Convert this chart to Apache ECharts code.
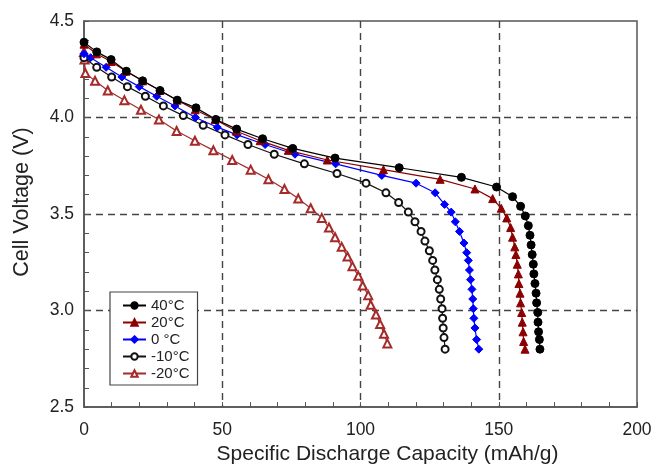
<!DOCTYPE html>
<html>
<head>
<meta charset="utf-8">
<script src="https://cdn.jsdelivr.net/npm/echarts@6/dist/echarts.min.js"></script>
<style>html,body{margin:0;padding:0;background:#fff}#c{width:657px;height:470px}</style>
</head>
<body>
<div id="c"></div>
<script>
var seriesNames = ['40\u00B0C', '20\u00B0C', '0 \u00B0C', '-10\u00B0C', '-20\u00B0C'];
var xTicks = [0, 50, 100, 150, 200];
var yTicks = [2.5, 3.0, 3.5, 4.0, 4.5];

var cap40 = [0,4.6,9.8,15.3,21.2,27.5,33.7,40.5,47.7,55.2,64.6,75.5,90.8,114,136.5,149.2,155.0,157.9,159.6,160.7,161.3,161.7,162.1,162.5,162.7,163.1,163.5,163.7,164.1,164.2,164.4,164.7,164.9];
var v40   = [4.39,4.34,4.30,4.24,4.19,4.14,4.09,4.05,3.99,3.94,3.89,3.84,3.79,3.74,3.69,3.64,3.59,3.54,3.49,3.44,3.39,3.34,3.29,3.24,3.19,3.14,3.09,3.04,2.99,2.94,2.89,2.85,2.80];

var cap20 = [0,4.5,9.8,15.2,21.2,27.5,33.7,40.2,47.4,55.0,63.7,73.9,88.0,108.3,128.8,141.4,147.8,150.9,152.9,154.3,155.0,155.8,156.2,156.7,157.1,157.3,157.7,157.9,158.3,158.5,158.8,159.0,159.5];
var v20   = [4.38,4.33,4.29,4.24,4.19,4.14,4.09,4.04,3.99,3.93,3.88,3.83,3.78,3.73,3.68,3.63,3.58,3.53,3.48,3.43,3.38,3.33,3.29,3.24,3.19,3.14,3.09,3.04,2.99,2.94,2.89,2.84,2.80];

var cap0 = [0,2.4,8.0,13.7,20.0,26.3,32.9,40.3,48.2,55.4,65.5,76.3,91.0,107.7,120.1,127.0,130.4,132.8,134.3,135.8,137.4,138.4,139.0,139.4,139.8,140.3,140.6,140.8,141.0,141.4,142.0,142.8];
var v0   = [4.33,4.31,4.26,4.21,4.16,4.11,4.06,4.00,3.95,3.91,3.86,3.81,3.76,3.70,3.66,3.61,3.55,3.51,3.46,3.41,3.35,3.30,3.26,3.21,3.16,3.11,3.06,3.01,2.96,2.91,2.85,2.80];

var capM10 = [0,4.6,10.0,15.7,22.2,28.7,35.9,43.1,51.0,59.3,68.8,79.7,91.5,102.0,109.2,113.8,117.3,119.7,121.9,123.3,124.9,126.1,126.9,127.8,128.5,129.0,129.5,129.7,129.9,130.2,130.6];
var vM10   = [4.31,4.26,4.21,4.16,4.11,4.06,4.01,3.96,3.91,3.86,3.81,3.76,3.71,3.66,3.61,3.56,3.51,3.46,3.41,3.36,3.31,3.26,3.21,3.16,3.11,3.06,3.01,2.96,2.91,2.86,2.80];

var capM20 = [0,0.2,0.5,4.0,8.6,14.6,20.6,27.1,33.5,40.1,46.8,53.6,60.3,66.7,72.5,77.5,82.0,86.0,88.6,90.8,93.2,95.3,97.1,99.2,100.8,102.8,103.7,105.6,107.1,108.5,109.7];
var vM20   = [4.34,4.30,4.23,4.19,4.14,4.09,4.04,3.99,3.93,3.88,3.83,3.78,3.73,3.68,3.63,3.58,3.53,3.48,3.43,3.38,3.33,3.28,3.23,3.18,3.13,3.08,3.03,2.98,2.93,2.88,2.83];

function zip(a, b) { return a.map(function (x, i) { return [x, b[i]]; }); }

var FONT = 'Liberation Sans, Arial, sans-serif';
var styles = [
  {color: '#000000', symbol: 'circle', size: 8},
  {color: '#8B0000', symbol: 'triangle', size: 8},
  {color: '#0000FF', symbol: 'diamond', size: 8},
  {color: '#111111', symbol: 'emptyCircle', size: 7},
  {color: '#A52A2A', symbol: 'emptyTriangle', size: 8}
];
var datasets = [zip(cap40, v40), zip(cap20, v20), zip(cap0, v0), zip(capM10, vM10), zip(capM20, vM20)];

var series = seriesNames.map(function (n, i) {
  var s = styles[i];
  return {
    name: n, type: 'line', data: datasets[i],
    symbol: s.symbol, symbolSize: s.size, showAllSymbol: true,
    lineStyle: {color: s.color, width: 1.2},
    itemStyle: {color: s.color, borderColor: s.color, borderWidth: 1},
    z: 10 - i, animation: false
  };
});

var chart = echarts.init(document.getElementById('c'));
chart.setOption({
  backgroundColor: '#ffffff',
  animation: false,
  grid: {left: 84, right: 20, top: 21, bottom: 58, show: true, borderColor: '#555', borderWidth: 1.5, containLabel: false},
  legend: {
    show: true, orient: 'vertical', left: 110, top: 292,
    data: seriesNames,
    itemWidth: 23, itemHeight: 8, itemGap: 2,
    padding: [6, 8, 4, 12],
    borderColor: '#444', borderWidth: 1.2, backgroundColor: '#fff',
    textStyle: {fontFamily: FONT, fontSize: 15, color: '#222', lineHeight: 15}
  },
  xAxis: {
    type: 'value', min: xTicks[0], max: xTicks[xTicks.length - 1], interval: 50,
    name: 'Specific Discharge Capacity (mAh/g)', nameLocation: 'middle', nameGap: 33,
    nameTextStyle: {fontFamily: FONT, fontSize: 21, color: '#222', padding: [0, 0, 0, 54]},
    axisLine: {show: true, lineStyle: {color: '#555', width: 1.5}},
    axisTick: {show: true, inside: true, length: 5, lineStyle: {color: '#555'}},
    minorTick: {show: true, splitNumber: 5, length: 5, lineStyle: {color: '#555'}},
    axisLabel: {fontFamily: FONT, fontSize: 17.5, color: '#222', margin: 14},
    splitLine: {show: true, showMinLine: false, showMaxLine: false, lineStyle: {color: '#444', width: 1.4, type: [7, 5]}}
  },
  yAxis: {
    type: 'value', min: yTicks[0], max: yTicks[yTicks.length - 1], interval: 0.5,
    name: 'Cell Voltage (V)', nameLocation: 'middle', nameGap: 51,
    nameTextStyle: {fontFamily: FONT, fontSize: 21.5, color: '#222', padding: [0, 0, 0, 24]},
    axisLine: {show: true, lineStyle: {color: '#555', width: 1.5}},
    axisTick: {show: true, inside: true, length: 5, lineStyle: {color: '#555'}},
    minorTick: {show: true, splitNumber: 5, length: 5, lineStyle: {color: '#555'}},
    axisLabel: {fontFamily: FONT, fontSize: 17.5, color: '#222', margin: 10, formatter: function (v) { return v.toFixed(1); }},
    splitLine: {show: true, showMinLine: false, showMaxLine: false, lineStyle: {color: '#444', width: 1.4, type: [7, 5]}}
  },
  series: series
});
</script>
</body>
</html>
